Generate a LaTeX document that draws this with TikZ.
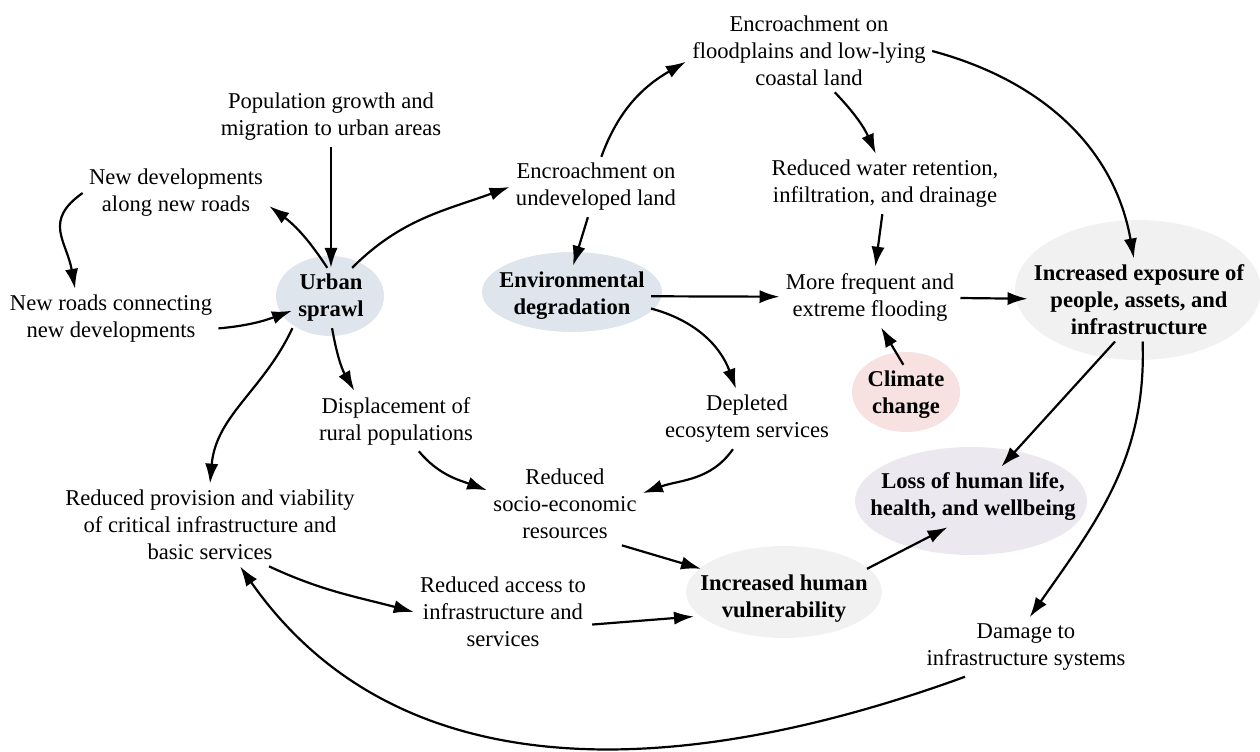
\documentclass[tikz,border=0pt]{standalone}
\usepackage{fontspec}
\setmainfont{Liberation Serif}
\usepackage{xcolor}
\usetikzlibrary{arrows.meta}
\definecolor{sprawlc}{RGB}{222,229,237}
\definecolor{expoc}{RGB}{241,241,241}
\definecolor{climc}{RGB}{247,225,225}
\definecolor{lossc}{RGB}{236,232,240}

\begin{document}
\begin{tikzpicture}[x=0.5pt,y=0.5pt,
  box/.style={align=center,inner sep=3pt,font=\fontsize{11.3}{13.5}\selectfont},
  hub/.style={box,font=\fontsize{11.3}{13.5}\selectfont\bfseries},
  link/.style={-{Latex[length=10pt,width=6.6pt]},line width=1.1pt}]
\useasboundingbox (0,0) rectangle (1260,-751);

% shaded hubs
\foreach \x/\y/\rx/\ry/\c in {330/-296/27/20/sprawlc, 572/-292/45/20/sprawlc,
    1138/-290/61.5/35/expoc, 906/-392/27/20/climc,
    971/-501/58/27/lossc, 784/-592/49/23/expoc}{
  \fill[\c] (\x,\y) ellipse [x radius=\rx pt, y radius=\ry pt];}

% nodes
\node[box] (pop) at (331,-117) {Population growth and\\migration to urban areas};
\node[box] (newdev) at (176,-193) {New developments\\along new roads};
\node[box] (newroads) at (111,-319) {New roads connecting\\new developments};
\node[hub] (urban) at (331,-298) {Urban\\sprawl};
\node[box] (encundev) at (596,-187) {Encroachment on\\undeveloped land};
\node[box] (encflood) at (809,-51) {Encroachment on\\floodplains and low-lying\\coastal land};
\node[box] (retention) at (885,-184) {Reduced water retention,\\infiltration, and drainage};
\node[hub] (envdeg) at (572,-296) {Environmental\\degradation};
\node[box] (flooding) at (870,-297) {More frequent and\\extreme flooding};
\node[hub] (exposure) at (1139,-300) {Increased exposure of\\people, assets, and\\infrastructure};
\node[hub] (climate) at (906,-395) {Climate\\change};
\node[box] (displace) at (396,-421) {Displacement of\\rural populations};
\node[box] (depleted) at (747,-419) {Depleted\\ecosytem services};
\node[box] (socioeco) at (565,-504) {Reduced\\socio-economic\\resources};
\node[box] (provision) at (210,-525) {Reduced provision and viability\\of critical infrastructure and\\basic services};
\node[hub] (loss) at (973,-497) {Loss of human life,\\health, and wellbeing};
\node[hub] (vulner) at (784,-599) {Increased human\\vulnerability};
\node[box] (access) at (503,-612) {Reduced access to\\infrastructure and\\services};
\node[box] (damage) at (1026,-647) {Damage to\\infrastructure systems};

% sprawl loop
\draw[link] (pop) -- (urban);
\draw[link] (urban.97) to[bend right=10] (newdev.-8);
\draw[link] (newdev.west) to[out=215,in=100,looseness=1.3] (newroads.140);
\draw[link] (newroads.-5) to[out=5,in=200] (urban.198);

% land and flooding
\draw[link] (urban.55) to[out=45,in=200] (encundev.west);
\draw[link] (encundev.80) to[out=70,in=210] (encflood.185);
\draw[link] (encflood.-58) to[bend left=10] (retention.107);
\draw[link] (encflood.east) to[out=-15,in=100] (exposure.97);
\draw[link] (encundev.-105) -- (envdeg.88);
\draw[link] (retention.-95) -- (flooding.80);
\draw[link] (envdeg) -- (flooding);
\draw[link] (flooding) -- (exposure);
\draw[link] (climate.95) -- (flooding.-70);

% vulnerability
\draw[link] (envdeg.-9) to[out=-15,in=110] (depleted.110);
\draw[link] (urban.-88) to[out=-80,in=120] (displace.144);
\draw[link] (urban.218) to[out=245,in=85] (provision.north);
\draw[link] (displace.-53) to[out=-50,in=160] (socioeco.170);
\draw[link] (depleted.-115) to[out=-125,in=20] (socioeco.8);
\draw[link] (socioeco.-36) -- (vulner.160);
\draw[link] (provision.-35) to[out=-25,in=165] (access.west);
\draw[link] (access.-8) -- (vulner.191);
\draw[link] (vulner.20) -- (loss.-130);

% impacts
\draw[link] (exposure.-120) -- (loss.47);
\draw[link] (exposure.-85) to[out=-88,in=55] (damage.83);
\draw[link] (damage.-154) to[out=200,in=-55] (provision.-54);

\end{tikzpicture}
\end{document}
